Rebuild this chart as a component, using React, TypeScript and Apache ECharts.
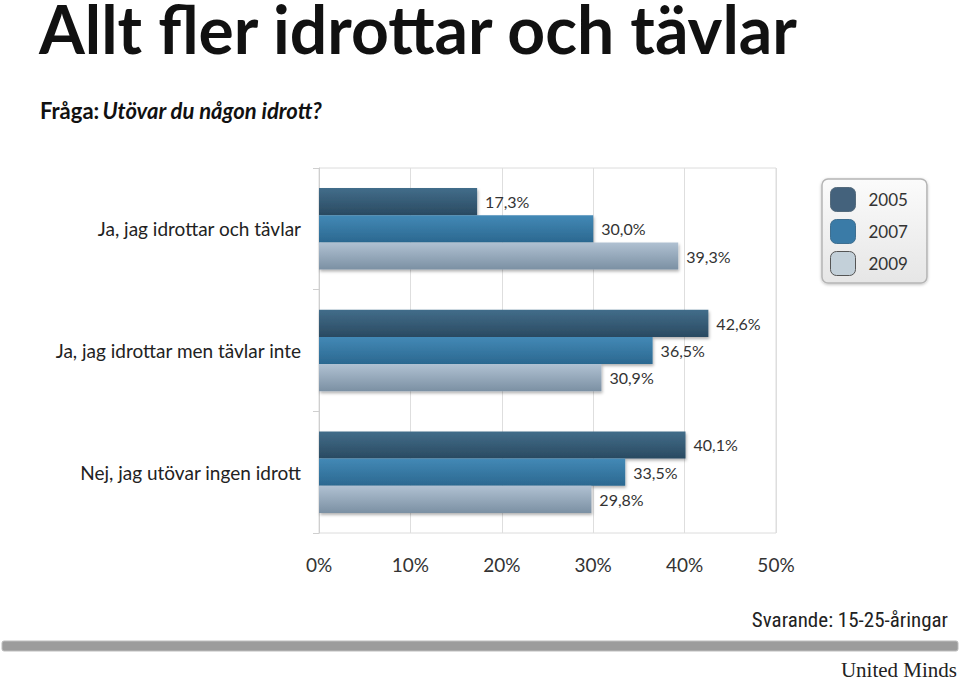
import React, { useEffect, useRef } from "react";
import * as echarts from "echarts";

const categories = [
  "Ja, jag idrottar och tävlar",
  "Ja, jag idrottar men tävlar inte",
  "Nej, jag utövar ingen idrott",
];
const years = ["2005", "2007", "2009"];
const values2005 = [17.3, 42.6, 40.1];
const values2007 = [30.0, 36.5, 33.5];
const values2009 = [39.3, 30.9, 29.8];
const xTicks = { min: 0, max: 50, interval: 10 };

const gradients: [string, string][] = [
  ["#426d8a", "#2a4a61"],
  ["#4389b6", "#2b6890"],
  ["#b0c1d2", "#7b90a3"],
];

const FONT = "Lato, 'Open Sans', sans-serif";

export default function App() {
  const ref = useRef<HTMLDivElement>(null);
  useEffect(() => {
    if (!ref.current) return;
    const chart = echarts.init(ref.current, null, { renderer: "svg" });
    const seriesData = [values2005, values2007, values2009];
    const fmt = (v: number) => v.toFixed(1).replace(".", ",") + "%";
    chart.setOption({
      animation: false,
      textStyle: { fontFamily: FONT },
      grid: {
        left: 319,
        top: 168,
        width: 457,
        height: 365,
        show: true,
        borderColor: "#dcdcdc",
        borderWidth: 1,
        backgroundColor: "transparent",
      },
      legend: {
        orient: "vertical",
        left: 822,
        top: 179,
        padding: [8, 19, 7, 8],
        itemWidth: 25,
        itemHeight: 24,
        itemGap: 7,
        backgroundColor: new echarts.graphic.LinearGradient(0, 0, 0, 1, [
          { offset: 0, color: "#fbfbfb" },
          { offset: 1, color: "#e6e6e6" },
        ]),
        borderColor: "#b5b5b5",
        borderWidth: 1.5,
        borderRadius: 6,
        shadowColor: "rgba(0,0,0,0.25)",
        shadowBlur: 3,
        shadowOffsetY: 1,
        textStyle: {
          fontSize: 17,
          color: "#333",
          fontFamily: FONT,
          padding: [0, 0, 0, 8],
        },
        data: [
          { name: "2005", itemStyle: { color: "#44627c", borderColor: "#556b7c", borderWidth: 1 } },
          { name: "2007", itemStyle: { color: "#3a7ba7", borderColor: "#3f6f90", borderWidth: 1 } },
          { name: "2009", itemStyle: { color: "#c3d0d9", borderColor: "#555", borderWidth: 1 } },
        ],
      },
      xAxis: {
        type: "value",
        min: xTicks.min,
        max: xTicks.max,
        interval: xTicks.interval,
        axisLine: { show: false },
        axisTick: { show: false },
        splitLine: { lineStyle: { color: "#dedede", width: 1 } },
        axisLabel: {
          formatter: "{value}%",
          fontSize: 19,
          color: "#333",
          margin: 22,
          fontFamily: FONT,
        },
      },
      yAxis: {
        type: "category",
        inverse: true,
        data: categories,
        axisLine: { show: true, lineStyle: { color: "#cfcfcf" } },
        axisTick: { show: true, length: 6, lineStyle: { color: "#cfcfcf" } },
        axisLabel: { fontSize: 19, color: "#222", margin: 18, fontFamily: FONT },
      },
      series: years.map((y, i) => ({
        name: y,
        type: "bar",
        data: seriesData[i],
        barGap: "0%",
        barCategoryGap: "33%",
        itemStyle: {
          color: new echarts.graphic.LinearGradient(0, 0, 0, 1, [
            { offset: 0, color: gradients[i][0] },
            { offset: 1, color: gradients[i][1] },
          ]),
          shadowColor: "rgba(0,0,0,0.3)",
          shadowBlur: 3,
          shadowOffsetX: 1,
          shadowOffsetY: 2,
        },
        label: {
          show: true,
          position: "right",
          distance: 8,
          fontSize: 16,
          color: "#333",
          fontFamily: FONT,
          formatter: (p: any) => fmt(p.value),
        },
      })),
      graphic: [
        {
          type: "text",
          left: 39,
          top: -5,
          style: {
            text: "Allt fler idrottar och tävlar",
            font: "bold 66px Lato",
            fill: "#111",
          },
        },
        {
          type: "text",
          left: 40,
          top: 99,
          style: {
            text: "{b|Fråga:} {i|Utövar du någon idrott?}",
            rich: {
              b: { font: "bold 22px Lato", fill: "#111" },
              i: { font: "italic bold 22px Lato", fill: "#111" },
            },
          },
        },
        {
          type: "text",
          right: 11,
          top: 609,
          style: {
            text: "Svarande: 15-25-åringar",
            font: "21px 'Liberation Sans Narrow', 'Roboto Condensed', Lato",
            fill: "#222",
          },
        },
        {
          type: "rect",
          shape: { x: 2, y: 641, width: 956, height: 10, r: 2 },
          style: { fill: "#9c9c9c", stroke: "#bdbdbd", lineWidth: 1 },
        },
        {
          type: "text",
          right: 2,
          top: 659,
          style: {
            text: "United Minds",
            font: "21px 'Liberation Serif', 'DejaVu Serif', serif",
            fill: "#222",
          },
        },
      ],
    });
    return () => chart.dispose();
  }, []);
  return (
    <div
      ref={ref}
      style={{ position: "absolute", left: 0, top: 0, width: 959, height: 679, background: "#fff" }}
    />
  );
}
